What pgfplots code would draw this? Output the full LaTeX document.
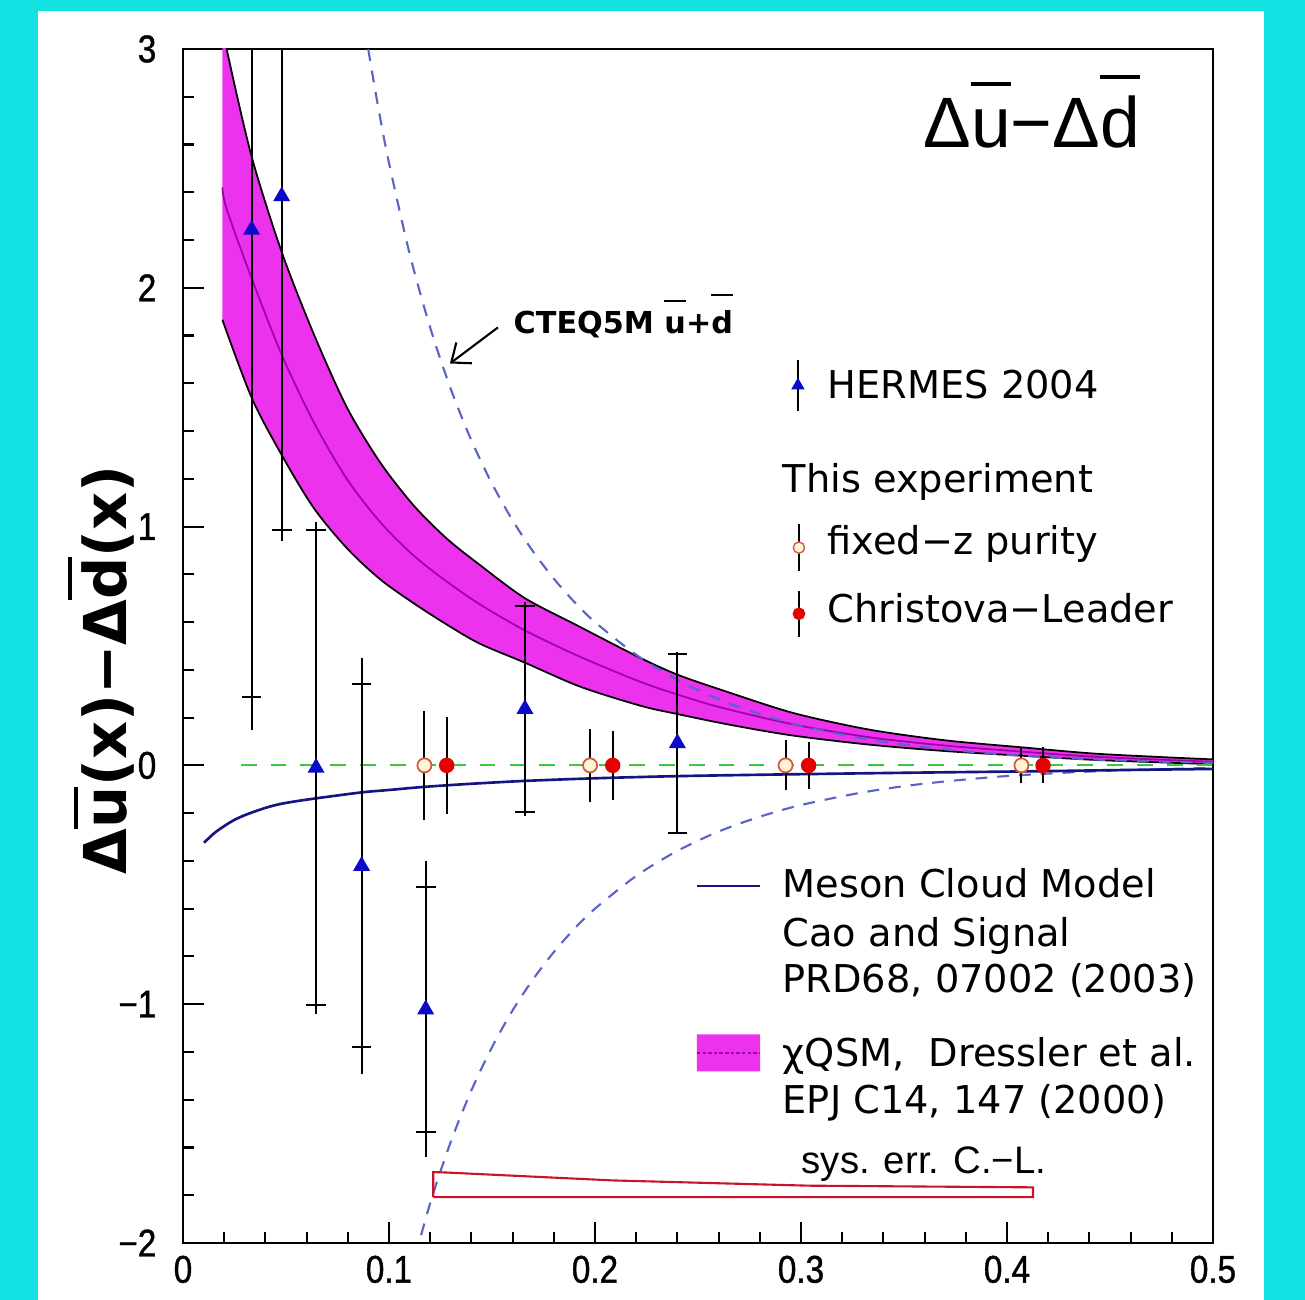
\documentclass[border=0pt]{standalone}
\usepackage{pgfplots}
\pgfplotsset{compat=1.18}
\usepackage{fontspec}
\setmainfont{DejaVu Sans}
\newfontfamily\lib{Liberation Sans}
\newfontfamily\tickfont[FakeStretch=0.86, FakeBold=1]{Liberation Sans}
\usetikzlibrary{arrows.meta}
\definecolor{bgcyan}{RGB}{18,226,226}
\definecolor{hblue}{RGB}{10,10,200}
\definecolor{navy}{RGB}{20,20,130}
\definecolor{cteq}{RGB}{90,100,200}
\definecolor{zgreen}{RGB}{60,200,60}
\definecolor{band}{RGB}{236,50,236}
\definecolor{bandline}{RGB}{160,0,170}
\definecolor{clred}{RGB}{230,0,0}
\definecolor{fzedge}{RGB}{210,90,60}
\definecolor{fzfill}{RGB}{255,245,215}
\definecolor{syscol}{RGB}{200,20,40}
\newcommand\obar[2]{\begingroup\setbox0\hbox{#1}\rlap{\raisebox{#2}{\rule{\wd0}{0.06em}}}\box0\endgroup}
\begin{document}
\begin{tikzpicture}[x=1cm,y=1cm]
\fill[bgcyan] (0,0) rectangle (13.05,13.00);
\fill[white] (0.38,0) rectangle (12.64,12.89);
\begin{axis}[at={(1.83cm,0.57cm)}, anchor=south west, scale only axis,
  width=10.30cm, height=11.94cm,
  xmin=0, xmax=0.5, ymin=-2, ymax=3,
  axis line style={black, line width=0.6pt},
  xtick={0,0.1,0.2,0.3,0.4,0.5}, xticklabels={0,0.1,0.2,0.3,0.4,0.5},
  ytick={-2,-1,0,1,2,3}, yticklabels={−2,−1,0,1,2,3},
  minor x tick num=4, minor y tick num=4,
  tick align=inside, xtick pos=bottom, ytick pos=left,
  major tick length=0.21cm, minor tick length=0.11cm,
  tick style={black, line width=0.6pt},
  xticklabel style={font=\tickfont\fontsize{11pt}{13pt}\selectfont, inner sep=0pt, yshift=-0.12cm},
  yticklabel style={font=\tickfont\fontsize{11pt}{13pt}\selectfont, inner sep=0pt, xshift=-0.26cm},
]
% chiQSM band
\addplot[fill=band, draw=none, forget plot] coordinates {
(0.0191,3.12) (0.0212,3.0) (0.0333,2.55) (0.0479,2.15) (0.0633,1.81) (0.0795,1.50) (0.0956,1.27) (0.1118,1.09) (0.128,0.95) (0.144,0.84) (0.166,0.70) (0.1927,0.58) (0.222,0.45) (0.24,0.38) (0.26,0.32) (0.296,0.22) (0.333,0.15) (0.37,0.105) (0.408,0.075) (0.445,0.048) (0.5,0.025)
(0.5,0.005) (0.445,0.022) (0.408,0.04) (0.37,0.06) (0.333,0.087) (0.296,0.125) (0.2655,0.17) (0.24,0.215) (0.222,0.25) (0.1927,0.33) (0.166,0.43) (0.144,0.51) (0.128,0.59) (0.1118,0.68) (0.0956,0.78) (0.0795,0.91) (0.0633,1.08) (0.0479,1.30) (0.0333,1.54) (0.0191,1.866) (0.0191,3.12)};
\addplot[black, line width=0.5pt, smooth, forget plot] coordinates {
(0.0191,3.12) (0.0212,3.0) (0.0333,2.55) (0.0479,2.15) (0.0633,1.81) (0.0795,1.50) (0.0956,1.27) (0.1118,1.09) (0.128,0.95) (0.144,0.84) (0.166,0.70) (0.1927,0.58) (0.222,0.45) (0.24,0.38) (0.26,0.32) (0.296,0.22) (0.333,0.15) (0.37,0.105) (0.408,0.075) (0.445,0.048) (0.5,0.025)};
\addplot[black, line width=0.5pt, smooth, forget plot] coordinates {
(0.5,0.005) (0.445,0.022) (0.408,0.04) (0.37,0.06) (0.333,0.087) (0.296,0.125) (0.2655,0.17) (0.24,0.215) (0.222,0.25) (0.1927,0.33) (0.166,0.43) (0.144,0.51) (0.128,0.59) (0.1118,0.68) (0.0956,0.78) (0.0795,0.91) (0.0633,1.08) (0.0479,1.30) (0.0333,1.54) (0.0191,1.866)};
\addplot[bandline, line width=0.5pt, smooth, forget plot] coordinates {
(0.0191,2.42) (0.0212,2.33) (0.0333,2.04) (0.0479,1.72) (0.0633,1.44) (0.0795,1.2) (0.0956,1.02) (0.1118,0.88) (0.128,0.77) (0.144,0.675) (0.166,0.565) (0.1927,0.455) (0.222,0.35) (0.24,0.297) (0.26,0.245) (0.296,0.172) (0.333,0.118) (0.37,0.083) (0.408,0.057) (0.445,0.035) (0.5,0.015)};
% CTEQ5M upper and lower
\addplot[cteq, line width=0.6pt, dash pattern=on 3.4pt off 2.8pt, smooth, forget plot] coordinates {
(0.085,3.27) (0.0899,3.0) (0.095,2.745) (0.10,2.523) (0.11,2.143) (0.12,1.833) (0.13,1.576) (0.14,1.361) (0.15,1.180) (0.16,1.026) (0.17,0.895) (0.18,0.782) (0.19,0.684) (0.20,0.600) (0.22,0.463) (0.24,0.358) (0.26,0.277) (0.28,0.215) (0.30,0.166) (0.33,0.113) (0.36,0.0764) (0.40,0.0446) (0.45,0.0221) (0.50,0.0105)};
\addplot[cteq, line width=0.6pt, dash pattern=on 3.4pt off 2.8pt, smooth, forget plot] coordinates {
(0.11,-2.143) (0.12,-1.833) (0.13,-1.576) (0.14,-1.361) (0.15,-1.180) (0.16,-1.026) (0.17,-0.895) (0.18,-0.782) (0.19,-0.684) (0.20,-0.600) (0.22,-0.463) (0.24,-0.358) (0.26,-0.277) (0.28,-0.215) (0.30,-0.166) (0.33,-0.113) (0.36,-0.0764) (0.40,-0.0446) (0.45,-0.0221) (0.50,-0.0105)};
% zero line
\addplot[zgreen, line width=0.6pt, dash pattern=on 4.5pt off 4pt, forget plot] coordinates {(0.028,0) (0.5,0)};
% meson cloud model
\addplot[navy, line width=0.75pt, smooth, forget plot] coordinates {
(0.0102,-0.324) (0.015,-0.285) (0.02,-0.254) (0.025,-0.228) (0.031,-0.205) (0.04,-0.178) (0.047,-0.162) (0.055,-0.150) (0.0646,-0.138) (0.0867,-0.113) (0.10,-0.103) (0.117,-0.090) (0.14,-0.077) (0.166,-0.065) (0.20,-0.054) (0.24,-0.045) (0.29,-0.038) (0.35,-0.031) (0.41,-0.025) (0.46,-0.019) (0.5,-0.015)};
% sys err C.-L.
\addplot[syscol, line width=0.6pt, forget plot] coordinates {
(0.1215,-1.808) (0.1215,-1.703) (0.128,-1.705) (0.2086,-1.738) (0.3037,-1.76) (0.4126,-1.767) (0.4126,-1.808) (0.1215,-1.808)};
% HERMES total error
\addplot[draw=none, mark=none, forget plot, error bars/.cd, y dir=both, y explicit, error mark=none, error bar style={black, line width=0.6pt}] coordinates {
(0.0333,2.243) +- (0,2.095)
(0.0479,2.383) +- (0,1.444)
(0.0646,-0.010) +- (0,1.030)
(0.0867,-0.421) +- (0,0.870)
(0.1178,-1.022) +- (0,0.620)
(0.166,0.236) +- (0,0.448)
(0.24,0.093) +- (0,0.380)};
% HERMES stat error
\addplot[only marks, mark=triangle*, mark size=2.4pt, hblue, forget plot, error bars/.cd, y dir=both, y explicit, error mark=-, error mark options={rotate=90, black, mark size=2.8pt, line width=0.6pt}, error bar style={black, line width=0.6pt}] coordinates {
(0.0333,2.243) +- (0,1.956)
(0.0479,2.383) +- (0,1.397)
(0.0646,-0.010) +- (0,0.995)
(0.0867,-0.421) +- (0,0.760)
(0.1178,-1.022) +- (0,0.512)
(0.166,0.236) +- (0,0.433)
(0.24,0.093) +- (0,0.375)};
% fixed-z purity
\addplot[only marks, mark=*, mark size=2.0pt, mark options={draw=fzedge, fill=fzfill, line width=0.5pt}, forget plot, error bars/.cd, y dir=both, y explicit, error mark=none, error bar style={black, line width=0.6pt}] coordinates {
(0.1172,0) +- (0,0.228)
(0.1976,0) +- (0,0.152)
(0.2925,0) +- (0,0.105)
(0.407,0) +- (0,0.075)};
% Christova-Leader
\addplot[only marks, mark=*, mark size=2.0pt, mark options={draw=clred, fill=clred}, forget plot, error bars/.cd, y dir=both, y explicit, error mark=none, error bar style={black, line width=0.6pt}] coordinates {
(0.128,0) +- (0,0.202)
(0.2086,0) +- (0,0.143)
(0.3037,0) +- (0,0.098)
(0.4175,0) +- (0,0.075)};
% legend samples
\addplot[only marks, mark=triangle*, mark size=1.8pt, hblue, forget plot, error bars/.cd, y dir=both, y explicit, error mark=none, error bar style={black, line width=0.6pt}] coordinates {(0.2985,1.591) +- (0,0.105)};
\addplot[only marks, mark=*, mark size=1.6pt, mark options={draw=fzedge, fill=fzfill, line width=0.4pt}, forget plot, error bars/.cd, y dir=both, y explicit, error mark=none, error bar style={black, line width=0.6pt}] coordinates {(0.299,0.912) +- (0,0.098)};
\addplot[only marks, mark=*, mark size=1.6pt, mark options={draw=clred, fill=clred}, forget plot, error bars/.cd, y dir=both, y explicit, error mark=none, error bar style={black, line width=0.6pt}] coordinates {(0.299,0.635) +- (0,0.097)};
\addplot[navy, line width=0.6pt, forget plot] coordinates {(0.2495,-0.505) (0.2801,-0.505)};
\addplot[fill=band, draw=none, forget plot] coordinates {(0.2495,-1.126) (0.2801,-1.126) (0.2801,-1.281) (0.2495,-1.281) (0.2495,-1.126)};
\addplot[bandline, line width=0.5pt, dash pattern=on 1pt off 0.6pt, forget plot] coordinates {(0.2495,-1.204) (0.2801,-1.204)};
% texts
\node[anchor=base west, font=\lib\fontsize{20.3pt}{24pt}\selectfont, inner sep=0pt] at (axis cs:0.3592,2.589) {Δ\obar{u}{0.85em}−Δ\obar{d}{0.95em}};
\node[anchor=base west, font=\bfseries\fontsize{8.6pt}{10pt}\selectfont, inner sep=0pt] at (axis cs:0.1602,1.808) {CTEQ5M \obar{u}{1.05em}+\obar{d}{1.25em}};
\draw[black, line width=0.6pt, -{Straight Barb[length=1.6mm, width=2.6mm]}] (axis cs:0.1529,1.834) -- (axis cs:0.1296,1.683);
\begin{scope}[every node/.style={anchor=base west, inner sep=0pt, font=\fontsize{10.9pt}{13pt}\selectfont}]
\node at (axis cs:0.3126,1.535) {HERMES 2004};
\node at (axis cs:0.2908,1.144) {This experiment};
\node at (axis cs:0.3126,0.883) {fixed−z purity};
\node at (axis cs:0.3126,0.599) {Christova−Leader};
\node at (axis cs:0.2908,-0.554) {Meson Cloud Model};
\node at (axis cs:0.2908,-0.757) {Cao and Signal};
\node at (axis cs:0.2908,-0.953) {PRD68, 07002 (2003)};
\node at (axis cs:0.2908,-1.26) {χQSM,\ \ Dressler et al.};
\node at (axis cs:0.2908,-1.456) {EPJ C14, 147 (2000)};
\node at (axis cs:0.300,-1.707) {\lib sys. err. C.−L.};
\end{scope}
\end{axis}
\node[rotate=90, font=\bfseries\fontsize{16.8pt}{20pt}\selectfont, inner sep=0pt] at (1.01,6.30) {Δ\obar{u}{0.82em}(x)−Δ\obar{d}{0.92em}(x)};
\end{tikzpicture}
\end{document}
